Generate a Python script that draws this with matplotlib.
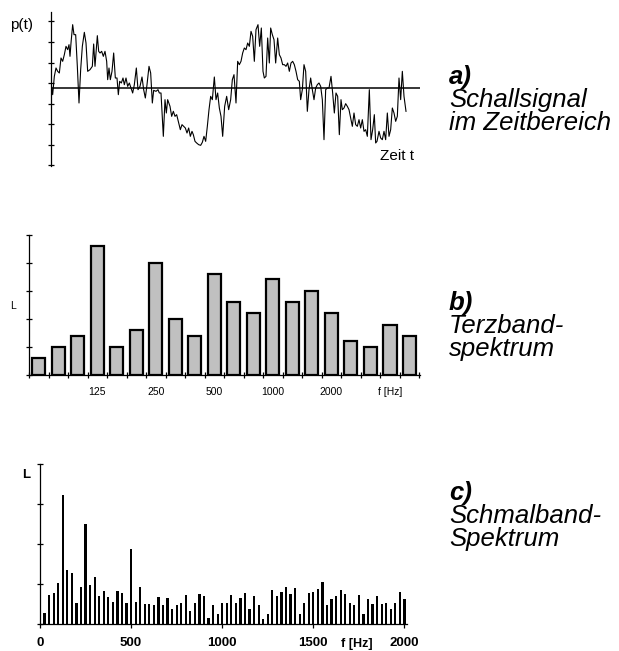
import numpy as np
import matplotlib
matplotlib.use('Agg')
import matplotlib.pyplot as plt

plt.rcParams['font.family'] = ['Liberation Sans', 'DejaVu Sans']

# a) Schallsignal im Zeitbereich (beliebige Einheiten)
t_signal = [0, 5, 10, 15, 20, 25, 30, 35, 40, 45, 50, 54, 57, 60, 65, 69, 74, 79, 84, 89,
            94, 100, 105, 110, 117, 124, 128, 132, 139, 143, 147, 152, 157, 162, 167, 170, 174, 178, 183, 188,
            193, 198, 202, 206, 211, 216, 220, 225, 230, 235, 240, 245, 250, 256, 261, 267, 273, 278, 283, 288,
            294, 299, 304, 308, 315, 321, 325, 330, 337, 342, 346, 350, 357, 362, 367, 372, 377, 383, 388, 393,
            398, 403, 408, 413, 418, 423, 427, 432, 437, 443, 449, 454, 459, 464, 469, 474, 479, 484, 490, 495,
            500, 505, 510, 515, 521, 527, 533, 539, 544, 549, 555, 560, 565, 570, 575, 580, 585, 590, 595, 600,
            605, 610, 615, 621, 626, 631, 636, 640, 645, 650, 655, 659, 664, 669, 674, 680, 685, 690, 695, 700,
            705, 710, 715, 720, 725, 730, 735, 740, 745, 749, 754, 759, 764, 769, 774, 779, 784, 789, 794, 799,
            804, 809, 814, 819, 824, 829, 834, 840, 845, 850, 855, 860, 865, 870, 874, 879, 884, 889, 894, 899,
            904, 909, 914, 919, 924, 929, 934, 939, 944, 949, 955, 960, 965, 970, 974, 978, 984, 989, 994, 999,
            1004, 1009, 1014, 1019, 1024, 1029, 1034, 1039, 1044, 1049, 1054, 1059, 1065]
p_signal = [15, -20, 35, 60, 50, 45, 90, 80, 100, 125, 115, 130, 95, 135, 190, 160, 160, 65, -45, 55,
            125, 167, 135, 50, 55, 65, 132, 65, 157, 110, 105, 110, 95, 110, 80, 25, 60, 25, 50, 105,
            30, 30, -20, 20, 15, 30, 10, 30, 5, 15, 0, -15, 10, 60, -5, 5, 33, -5, -30, 10,
            65, 45, -45, -7, -10, -5, -15, -15, -145, -35, -75, -35, -55, -85, -70, -85, -80, -105, -125, -110,
            -115, -120, -135, -120, -145, -130, -140, -160, -165, -170, -172, -163, -145, -160, -115, -65, -25, -35, 33, -35,
            -15, -60, -85, -145, -55, -25, -65, -35, 25, 40, -45, 80, 70, 80, 105, 120, 115, 135, 125, 170,
            155, 80, 175, 190, 125, 180, 50, 30, 35, 150, 75, 180, 160, 145, 75, 150, 100, 90, 70, 70,
            65, 75, 50, 75, 80, 70, 50, 25, 20, -35, -5, 70, 50, -70, -5, 30, -5, -35, 0, 10,
            15, 5, -35, -155, -5, 0, 0, 35, -15, -75, -15, -25, -140, -35, -65, -60, -47, -55, -65, -90,
            -115, -75, -110, -115, -95, -120, -95, -130, -125, -145, -5, -155, -125, -80, -165, -160, -130, -150, -155, -130,
            -155, -75, -145, -125, -60, -75, -100, -85, 30, -35, 50, -25, -70]

# b) Terzbandspektrum
terz_levels = [0.62, 1.0, 1.4, 4.6, 1.0, 1.62, 4.0, 2.0, 1.4, 3.6,
               2.62, 2.2, 3.42, 2.62, 3.01, 2.2, 1.21, 1.0, 1.8, 1.4]
terz_labels = {3: '125', 6: '250', 9: '500', 12: '1000', 15: '2000', 18: 'f [Hz]'}

# c) Schmalband-Spektrum, 25 Hz Raster
schmal_freq = list(range(25, 2001, 25))
schmal_levels = [0.28, 0.73, 0.78, 1.03, 3.23, 1.36, 1.27, 0.53, 0.93, 2.51,
                 0.98, 1.18, 0.69, 0.82, 0.68, 0.55, 0.82, 0.78, 0.53, 1.88,
                 0.55, 0.93, 0.51, 0.51, 0.48, 0.68, 0.48, 0.66, 0.38, 0.48,
                 0.53, 0.72, 0.32, 0.53, 0.74, 0.69, 0.15, 0.47, 0.26, 0.53,
                 0.53, 0.73, 0.53, 0.64, 0.78, 0.38, 0.69, 0.48, 0.12, 0.26,
                 0.84, 0.71, 0.79, 0.93, 0.74, 0.91, 0.26, 0.53, 0.78, 0.81,
                 0.88, 1.05, 0.48, 0.63, 0.69, 0.85, 0.76, 0.53, 0.48, 0.73,
                 0.26, 0.63, 0.51, 0.71, 0.49, 0.53, 0.38, 0.53, 0.80, 0.63]
schmal_ticks = [0, 500, 1000, 1500, 2000]

W, H = 619, 651
fig = plt.figure(figsize=(W / 100, H / 100), dpi=100)


def px_axes(left, top, right, bottom):
    return fig.add_axes([left / W, 1 - bottom / H, (right - left) / W, (bottom - top) / H])


# --- a) ---
ax1 = px_axes(51, 12, 420, 166)
ax1.plot(t_signal, p_signal, color='black', lw=0.8)
ax1.axhline(0, color='black', lw=1.1)
ax1.set_xlim(0, 1107)
ax1.set_ylim(-234, 228)
ax1.set_yticks(np.arange(-232, 229, 61.7))
ax1.set_yticklabels([])
ax1.set_xticks([])
for s in ['top', 'right', 'bottom']:
    ax1.spines[s].set_visible(False)
ax1.spines['left'].set_linewidth(0.9)
ax1.tick_params(axis='y', direction='inout', length=5, width=0.9)
fig.text(22 / W, 1 - 25 / H, 'p(t)', fontsize=11, ha='center', va='center')
fig.text(397 / W, 1 - 156 / H, 'Zeit t', fontsize=11, ha='center', va='center')

# --- b) ---
ax2 = px_axes(29, 235, 420, 375)
pos = np.arange(len(terz_levels))
ax2.bar(pos, terz_levels, width=0.69, color='#c0c0c0', edgecolor='black', linewidth=1.6)
ax2.set_xlim(-0.46, 19.55)
ax2.set_ylim(0, 5)
ax2.set_yticks(range(6))
ax2.set_yticklabels([])
ax2.set_xticks(np.arange(-0.5, 20, 1))
ax2.set_xticklabels([])
ax2.set_xticks(list(terz_labels.keys()), minor=True)
ax2.set_xticklabels(list(terz_labels.values()), minor=True, fontsize=7.5)
ax2.tick_params(axis='x', which='minor', length=0, pad=9)
ax2.tick_params(axis='both', which='major', direction='inout', length=4, width=0.9)
for s in ['top', 'right']:
    ax2.spines[s].set_visible(False)
for s in ['left', 'bottom']:
    ax2.spines[s].set_linewidth(0.9)
fig.text(13 / W, 1 - 306 / H, 'L', fontsize=7.5, ha='center', va='center')

# --- c) ---
ax3 = px_axes(40, 464, 406.6, 624)
ax3.bar(schmal_freq, schmal_levels, width=12, color='black')
ax3.set_xlim(0, 2012)
ax3.set_ylim(0, 4)
ax3.set_yticks(range(5))
ax3.set_yticklabels([])
ax3.set_xticks(schmal_ticks)
ax3.set_xticklabels([str(v) for v in schmal_ticks], fontsize=9.5, fontweight='bold')
ax3.tick_params(axis='x', direction='out', length=3, width=0.9, pad=6)
ax3.tick_params(axis='y', direction='inout', length=5, width=0.9)
for s in ['top', 'right']:
    ax3.spines[s].set_visible(False)
for s in ['left', 'bottom']:
    ax3.spines[s].set_linewidth(0.9)
fig.text(26 / W, 1 - 475 / H, 'L', fontsize=9.5, fontweight='bold', ha='center', va='center')
fig.text(357 / W, 1 - 644 / H, 'f [Hz]', fontsize=9, fontweight='bold', ha='center', va='center')

# Beschriftungen rechts
panels = [(84, 'a)', 'Schallsignal', 'im Zeitbereich'),
          (310, 'b)', 'Terzband-', 'spektrum'),
          (500, 'c)', 'Schmalband-', 'Spektrum')]
for base, head, line1, line2 in panels:
    fig.text(449 / W, 1 - base / H, head, fontsize=18.5, fontweight='bold', style='italic', va='baseline')
    fig.text(449 / W, 1 - (base + 23) / H, line1, fontsize=18.5, style='italic', va='baseline')
    fig.text(449 / W, 1 - (base + 46) / H, line2, fontsize=18.5, style='italic', va='baseline')

fig.savefig('out.png', dpi=100)
